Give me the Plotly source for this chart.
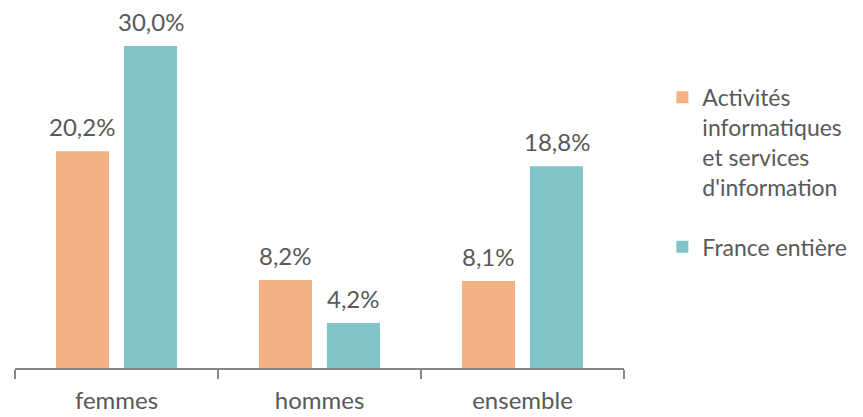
import plotly.graph_objects as go

categories = ["femmes", "hommes", "ensemble"]
activites = [20.2, 8.2, 8.1]
france = [30.0, 4.2, 18.8]
series_names = ["Activités<br>informatiques<br>et services<br>d'information", "France entière"]

ORANGE = "#F4B183"
TEAL = "#80C4C8"
GREY = "#595959"
AXIS = "#868686"
FONT = "Lato, 'Open Sans', sans-serif"

# plot width in px, used to centre the value labels over the grouped bars
PLOT_W = 609
BARGAP, BARGROUPGAP = 0.33, 0.22
slot = PLOT_W / len(categories) * (1 - BARGAP) / 2

fig = go.Figure()
specs = [(series_names[0], activites, ORANGE, "a", -slot / 2),
         (series_names[1], france, TEAL, "b", slot / 2)]
for name, vals, clr, grp, dx in specs:
    fig.add_trace(go.Bar(
        x=categories, y=vals, name=name, legendgroup=grp,
        marker=dict(color=clr, line=dict(width=0)),
        hoverinfo="skip",
    ))
    for cat, v in zip(categories, vals):
        fig.add_annotation(
            x=cat, y=v, text=f"{v:.1f}%".replace(".", ","),
            showarrow=False, xshift=dx, yshift=9, yanchor="bottom",
            borderpad=0,
            font=dict(size=24, color=GREY, family=FONT),
        )

fig.update_layout(
    width=863, height=417,
    margin=dict(l=7, r=247, t=0, b=57),
    paper_bgcolor="white", plot_bgcolor="white",
    barmode="group", bargap=BARGAP, bargroupgap=BARGROUPGAP,
    font=dict(family=FONT, size=24, color=GREY),
    legend=dict(x=1.063, y=0.812, xanchor="left", yanchor="top",
                valign="top", tracegroupgap=27,
                font=dict(size=23, color=GREY, family=FONT),
                itemwidth=30),
    showlegend=True,
)
fig.update_xaxes(showline=True, linecolor=AXIS, linewidth=1.5,
                 ticks="outside", tickson="boundaries", ticklen=9,
                 tickcolor=AXIS, tickwidth=1.5, ticklabelstandoff=10,
                 tickfont=dict(size=24, color=GREY, family=FONT))
fig.update_yaxes(visible=False, range=[0, 33.55])

fig.write_html("out.html")
